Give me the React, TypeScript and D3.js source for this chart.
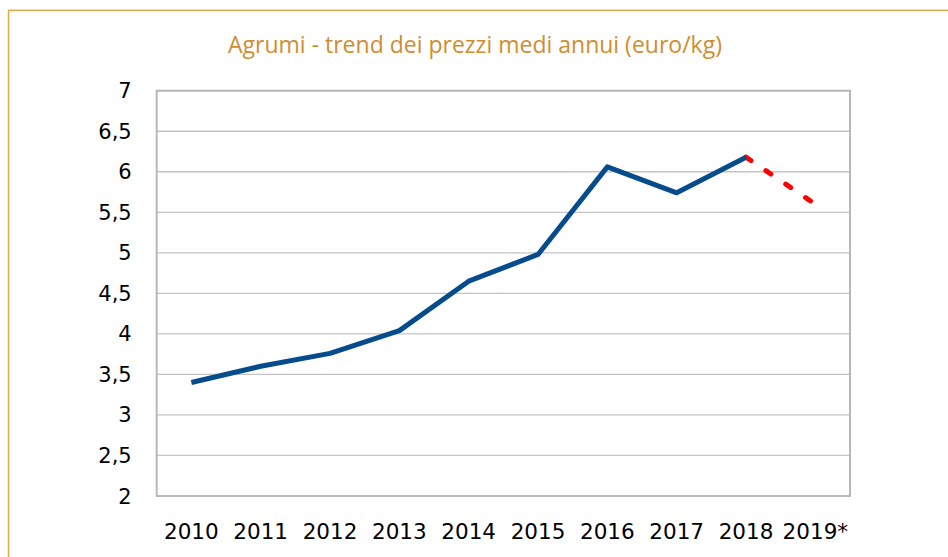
import { useEffect, useRef } from 'react'
import * as d3 from 'd3'

const WIDTH = 948
const HEIGHT = 557

const years = ['2010', '2011', '2012', '2013', '2014', '2015', '2016', '2017', '2018', '2019*']
// actual yearly prices (euro/kg), 2010..2018
const prices = [3.4, 3.6, 3.76, 4.04, 4.65, 4.98, 6.06, 5.74, 6.18]
// estimate: last actual year -> 2019*
const forecastYears = ['2018', '2019*']
const forecast = [6.18, 5.6]
const yTicks = [2, 2.5, 3, 3.5, 4, 4.5, 5, 5.5, 6, 6.5, 7]

const TITLE = 'Agrumi - trend dei prezzi medi annui (euro/kg)'
const MARGIN = { top: 90.7, right: 98, bottom: 61, left: 156.7 }
const FONT = 'DejaVu Sans, sans-serif'

export default function App() {
  const svgRef = useRef<SVGSVGElement>(null)

  useEffect(() => {
    if (!svgRef.current) return
    const svg = d3.select(svgRef.current)
    svg.selectAll('*').remove()

    const innerW = WIDTH - MARGIN.left - MARGIN.right
    const innerH = HEIGHT - MARGIN.top - MARGIN.bottom

    const x = d3.scaleBand<string>().domain(years).range([0, innerW])
    const y = d3.scaleLinear().domain([2, 7]).range([innerH, 0])
    const cx = (d: string) => (x(d) ?? 0) + x.bandwidth() / 2

    svg.append('rect').attr('width', WIDTH).attr('height', HEIGHT).attr('fill', '#fff')

    // outer chart frame (runs off the right/bottom edges)
    svg.append('rect')
      .attr('x', 8.5)
      .attr('y', 10.3)
      .attr('width', 1000)
      .attr('height', 1000)
      .attr('fill', 'none')
      .attr('stroke', '#E2A850')
      .attr('stroke-width', 1.5)

    svg.append('text')
      .attr('x', 475)
      .attr('y', 53)
      .attr('text-anchor', 'middle')
      .attr('fill', '#D08D2F')
      .attr('font-size', 23)
      .attr('font-family', 'Open Sans, sans-serif')
      .text(TITLE)

    const g = svg.append('g').attr('transform', `translate(${MARGIN.left},${MARGIN.top})`)

    // gridlines
    g.selectAll('line.grid')
      .data(yTicks)
      .join('line')
      .attr('class', 'grid')
      .attr('x1', 0)
      .attr('x2', innerW)
      .attr('y1', (d) => y(d))
      .attr('y2', (d) => y(d))
      .attr('stroke', '#C4C4C4')
      .attr('stroke-width', 1.3)

    // plot frame
    g.append('rect')
      .attr('x', 0)
      .attr('y', 0)
      .attr('width', innerW)
      .attr('height', innerH)
      .attr('fill', 'none')
      .attr('stroke', '#B8B8B8')
      .attr('stroke-width', 2)

    // y labels
    g.selectAll('text.ytick')
      .data(yTicks)
      .join('text')
      .attr('class', 'ytick')
      .attr('x', -25)
      .attr('y', (d) => y(d))
      .attr('dy', '0.36em')
      .attr('text-anchor', 'end')
      .attr('font-size', 21)
      .attr('font-family', FONT)
      .attr('fill', '#000')
      .text((d) => d3.format('~g')(d).replace('.', ','))

    // x labels
    g.selectAll('text.xtick')
      .data(years)
      .join('text')
      .attr('class', 'xtick')
      .attr('x', (d) => cx(d))
      .attr('y', innerH + 43)
      .attr('text-anchor', 'middle')
      .attr('font-size', 21.5)
      .attr('font-family', FONT)
      .attr('fill', '#000')
      .text((d) => d)

    const line = d3.line<[string, number]>()
      .x((d) => cx(d[0]))
      .y((d) => y(d[1]))

    g.append('path')
      .datum(forecast.map((v, i) => [forecastYears[i], v] as [string, number]))
      .attr('d', line)
      .attr('fill', 'none')
      .attr('stroke', '#FF0000')
      .attr('stroke-width', 5)
      .attr('stroke-linecap', 'round')
      .attr('stroke-dasharray', '6 18')

    g.append('path')
      .datum(prices.map((v, i) => [years[i], v] as [string, number]))
      .attr('d', line)
      .attr('fill', 'none')
      .attr('stroke', '#064B8C')
      .attr('stroke-width', 5)
      .attr('stroke-linejoin', 'round')
  }, [])

  return (
    <svg
      ref={svgRef}
      width={WIDTH}
      height={HEIGHT}
      style={{ position: 'absolute', left: 0, top: 0, display: 'block' }}
    />
  )
}
